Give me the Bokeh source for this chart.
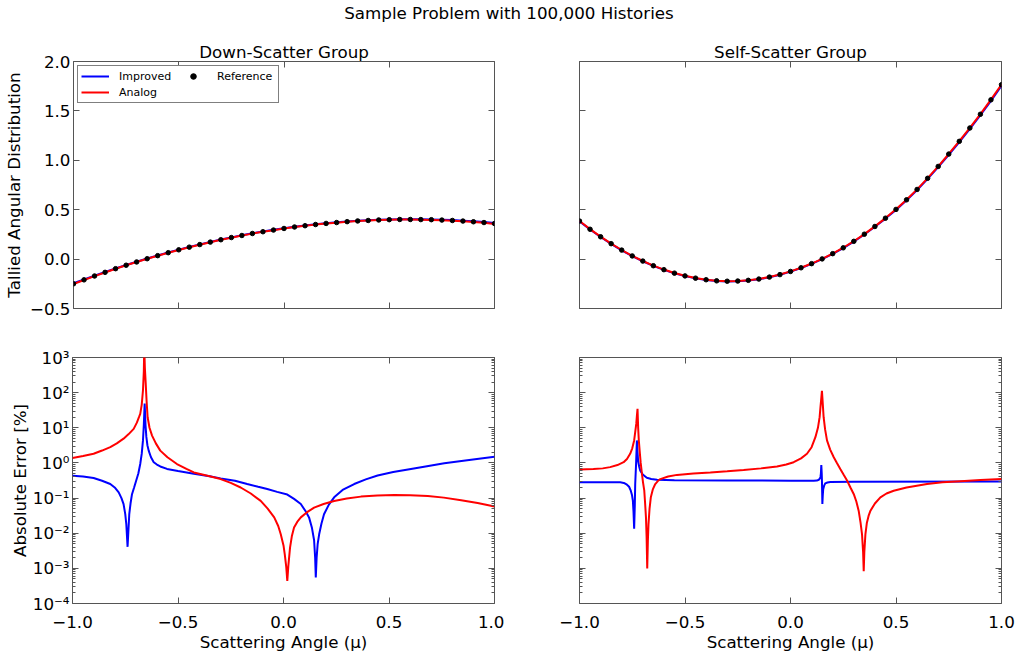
from bokeh.plotting import figure
from bokeh.layouts import column, row
from bokeh.models import (Range1d, LinearAxis, LogAxis, FixedTicker,
                          CustomJSTickFormatter, Legend, LegendItem)
from bokeh.embed import file_html
from bokeh.resources import INLINE
from bokeh.core.validation import silence
from bokeh.core.validation.warnings import MISSING_RENDERERS

silence(MISSING_RENDERERS, True)

FONT = "DejaVu Sans"
FS = "16.7px"
BLUE = "#0000ff"
RED = "#ff0000"
SPINE = "#555555"

# ---------------- texts ----------------
suptitle = "Sample Problem with 100,000 Histories"
panel_titles = ["Down-Scatter Group", "Self-Scatter Group"]
x_label = "Scattering Angle (\u03bc)"
y_label_top = "Tallied Angular Distribution"
y_label_bottom = "Absolute Error [%]"
series_names = ["Improved", "Analog", "Reference"]

x_ticks = [-1.0, -0.5, 0.0, 0.5, 1.0]
y_ticks_top = [-0.5, 0.0, 0.5, 1.0, 1.5, 2.0]
y_ticks_bottom = [1e-4, 1e-3, 1e-2, 1e-1, 1e0, 1e1, 1e2, 1e3]

# ---------------- top row: angular distributions ----------------
mu_ref = [-1.0, -0.95, -0.9, -0.85, -0.8, -0.75, -0.7, -0.65, -0.6, -0.55,
          -0.5, -0.45, -0.4, -0.35, -0.3, -0.25, -0.2, -0.15, -0.1, -0.05,
          0.0, 0.05, 0.1, 0.15, 0.2, 0.25, 0.3, 0.35, 0.4, 0.45,
          0.5, 0.55, 0.6, 0.65, 0.7, 0.75, 0.8, 0.85, 0.9, 0.95, 1.0]

down_reference = [-0.250, -0.210, -0.171, -0.134, -0.097, -0.062, -0.029, 0.004,
                  0.035, 0.065, 0.094, 0.121, 0.147, 0.172, 0.196, 0.218, 0.239,
                  0.259, 0.277, 0.294, 0.310, 0.325, 0.338, 0.350, 0.361, 0.370,
                  0.379, 0.386, 0.391, 0.396, 0.399, 0.401, 0.401, 0.400, 0.399,
                  0.395, 0.391, 0.385, 0.378, 0.370, 0.360]
down_improved = [-0.245, -0.206, -0.168, -0.131, -0.095, -0.060, -0.027, 0.006,
                 0.037, 0.067, 0.096, 0.123, 0.149, 0.174, 0.198, 0.220, 0.241,
                 0.261, 0.279, 0.296, 0.312, 0.327, 0.340, 0.352, 0.363, 0.372,
                 0.381, 0.388, 0.393, 0.398, 0.401, 0.403, 0.404, 0.403, 0.402,
                 0.399, 0.395, 0.389, 0.382, 0.375, 0.366]
down_analog = [-0.252, -0.212, -0.172, -0.135, -0.098, -0.063, -0.030, 0.003,
               0.034, 0.064, 0.093, 0.120, 0.146, 0.171, 0.195, 0.217, 0.238,
               0.258, 0.276, 0.293, 0.309, 0.324, 0.337, 0.349, 0.360, 0.369,
               0.378, 0.385, 0.390, 0.395, 0.398, 0.400, 0.400, 0.399, 0.397,
               0.393, 0.388, 0.382, 0.375, 0.367, 0.356]

self_reference = [0.385, 0.302, 0.226, 0.156, 0.091, 0.032, -0.020, -0.067,
                  -0.107, -0.142, -0.170, -0.193, -0.209, -0.220, -0.224, -0.222,
                  -0.215, -0.202, -0.182, -0.157, -0.125, -0.088, -0.046, 0.002,
                  0.055, 0.114, 0.180, 0.252, 0.330, 0.414, 0.503, 0.600, 0.705,
                  0.818, 0.938, 1.063, 1.192, 1.327, 1.466, 1.612, 1.765]
self_improved = [0.383, 0.300, 0.224, 0.154, 0.089, 0.030, -0.022, -0.069,
                 -0.109, -0.144, -0.172, -0.195, -0.211, -0.222, -0.226, -0.224,
                 -0.217, -0.204, -0.184, -0.159, -0.127, -0.090, -0.048, 0.000,
                 0.053, 0.112, 0.177, 0.249, 0.327, 0.410, 0.498, 0.595, 0.700,
                 0.812, 0.931, 1.055, 1.184, 1.318, 1.457, 1.602, 1.755]
self_analog = [0.386, 0.303, 0.227, 0.157, 0.092, 0.033, -0.019, -0.066,
               -0.106, -0.141, -0.169, -0.192, -0.208, -0.219, -0.223, -0.221,
               -0.214, -0.201, -0.181, -0.156, -0.124, -0.087, -0.045, 0.003,
               0.056, 0.115, 0.181, 0.253, 0.331, 0.415, 0.504, 0.601, 0.706,
               0.819, 0.939, 1.064, 1.194, 1.329, 1.468, 1.614, 1.767]

# ---------------- bottom row: absolute error [%] ----------------
down_err_improved_mu = [-1.0, -0.95, -0.90, -0.86, -0.821, -0.80, -0.781, -0.768, -0.758,
                        -0.750, -0.745, -0.739, -0.735, -0.731, -0.725, -0.718, -0.708,
                        -0.698, -0.688, -0.679, -0.672, -0.666, -0.662, -0.658, -0.654,
                        -0.650, -0.645, -0.639, -0.628, -0.615, -0.600, -0.584, -0.552,
                        -0.50, -0.425, -0.35, -0.298, -0.23, -0.172, -0.12, -0.077,
                        -0.03, 0.018, 0.05, 0.082, 0.105, 0.121, 0.135, 0.145, 0.150,
                        0.153, 0.157, 0.162, 0.169, 0.18, 0.192, 0.215, 0.240, 0.28,
                        0.335, 0.39, 0.446, 0.52, 0.604, 0.68, 0.762, 0.88, 1.0]
down_err_improved = [0.435, 0.41, 0.372, 0.31, 0.251, 0.20, 0.145, 0.10, 0.0676,
                     0.035, 0.0182, 0.0041, 0.012, 0.0347, 0.07, 0.129, 0.2,
                     0.316, 0.5, 0.933, 1.8, 4.37, 12.0, 49.0, 12.0,
                     5.5, 3.2, 2.24, 1.45, 1.05, 0.9, 0.794, 0.676,
                     0.59, 0.49, 0.42, 0.363, 0.31, 0.251, 0.21, 0.182,
                     0.15, 0.126, 0.095, 0.0676, 0.042, 0.0282, 0.014, 0.0063, 0.002,
                     0.00055, 0.002, 0.005, 0.0093, 0.019, 0.0347, 0.065, 0.105, 0.17,
                     0.251, 0.34, 0.437, 0.55, 0.676, 0.81, 0.977, 1.22, 1.51]

down_err_analog_mu = [-1.0, -0.95, -0.90, -0.86, -0.821, -0.79, -0.758, -0.735, -0.710,
                      -0.695, -0.685, -0.679, -0.672, -0.666, -0.662, -0.660, -0.657,
                      -0.653, -0.649, -0.644, -0.635, -0.623, -0.605, -0.584, -0.55,
                      -0.505, -0.46, -0.425, -0.36, -0.298, -0.25, -0.203, -0.155,
                      -0.108, -0.075, -0.044, -0.025, -0.013, 0.0, 0.006, 0.013,
                      0.018, 0.023, 0.031, 0.040, 0.050, 0.065, 0.082, 0.11, 0.145,
                      0.19, 0.240, 0.30, 0.367, 0.445, 0.525, 0.60, 0.684, 0.76,
                      0.842, 0.92, 1.0]
down_err_analog = [1.39, 1.58, 1.82, 2.25, 2.82, 3.6, 4.9, 6.5, 9.3,
                   14.0, 20.0, 25.0, 45.0, 117.0, 400.0, 2000.0, 500.0,
                   182.0, 60.0, 20.0, 10.0, 6.0, 3.6, 2.24, 1.45,
                   0.93, 0.68, 0.537, 0.43, 0.347, 0.27, 0.2, 0.135,
                   0.083, 0.05, 0.0282, 0.016, 0.0093, 0.0045, 0.0025, 0.0011,
                   0.00044, 0.0012, 0.0039, 0.0085, 0.0145, 0.021, 0.0282, 0.039, 0.0537,
                   0.068, 0.083, 0.097, 0.11, 0.118, 0.123, 0.121, 0.115, 0.103,
                   0.087, 0.072, 0.0575]

self_err_improved_mu = [-1.0, -0.9, -0.807, -0.79, -0.775, -0.765, -0.757, -0.751, -0.747,
                        -0.744, -0.741, -0.738, -0.736, -0.732, -0.728, -0.725, -0.722,
                        -0.717, -0.712, -0.700, -0.69, -0.681, -0.66, -0.633, -0.55,
                        -0.300, 0.0, 0.110, 0.125, 0.134, 0.140, 0.142, 0.144, 0.146,
                        0.148, 0.149, 0.150, 0.151, 0.153, 0.155, 0.160, 0.165, 0.175,
                        0.189, 0.3, 1.0]
self_err_improved = [0.282, 0.282, 0.28, 0.27, 0.24, 0.21, 0.162, 0.12, 0.083,
                     0.04, 0.0135, 0.06, 0.25, 0.9, 4.37, 2.0, 1.12,
                     0.78, 0.60, 0.468, 0.42, 0.38, 0.35, 0.331, 0.32,
                     0.316, 0.312, 0.309, 0.315, 0.331, 0.37, 0.398, 0.5, 0.87,
                     0.5, 0.316, 0.15, 0.0676, 0.12, 0.178, 0.23, 0.263, 0.278,
                     0.288, 0.292, 0.295]

self_err_analog_mu = [-1.0, -0.934, -0.89, -0.855, -0.82, -0.791, -0.775, -0.760, -0.75,
                      -0.741, -0.736, -0.731, -0.728, -0.725, -0.722, -0.719, -0.715,
                      -0.710, -0.704, -0.699, -0.693, -0.689, -0.685, -0.682, -0.679,
                      -0.676, -0.673, -0.668, -0.662, -0.652, -0.641, -0.630, -0.617,
                      -0.58, -0.538, -0.46, -0.380, -0.30, -0.222, -0.14, -0.064,
                      -0.02, 0.015, 0.05, 0.078, 0.10, 0.118, 0.13, 0.138, 0.142,
                      0.146, 0.149, 0.152, 0.157, 0.164, 0.173, 0.188, 0.205, 0.22,
                      0.236, 0.252, 0.268, 0.284, 0.300, 0.312, 0.323, 0.332, 0.339,
                      0.344, 0.347, 0.350, 0.355, 0.362, 0.370, 0.379, 0.40, 0.426,
                      0.455, 0.489, 0.55, 0.647, 0.72, 0.806, 0.9, 1.0]
self_err_analog = [0.646, 0.668, 0.7, 0.76, 0.87, 1.05, 1.3, 1.82, 2.6,
                   4.37, 7.5, 12.9, 22.0, 34.7, 10.0, 4.5, 2.24,
                   1.0, 0.49, 0.28, 0.162, 0.07, 0.0282, 0.008, 0.001,
                   0.006, 0.0182, 0.05, 0.105, 0.18, 0.251, 0.30, 0.347,
                   0.41, 0.457, 0.5, 0.537, 0.58, 0.631, 0.7, 0.794,
                   0.9, 1.05, 1.35, 1.82, 2.8, 5.4, 10.0, 20.0, 38.9,
                   70.0, 112.0, 60.0, 20.0, 9.0, 4.37, 2.4, 1.45, 1.0,
                   0.676, 0.46, 0.316, 0.2, 0.129, 0.08, 0.0437, 0.02, 0.0093,
                   0.003, 0.00083, 0.003, 0.0093, 0.02, 0.031, 0.0437, 0.07, 0.105,
                   0.135, 0.162, 0.2, 0.251, 0.28, 0.302, 0.325, 0.347]

# ---------------- helpers ----------------
minus_fmt = CustomJSTickFormatter(code="return tick.toFixed(1).replace('-', '\\u2212');")
log_fmt = CustomJSTickFormatter(code="""
const sup = {'-':'\\u207B','0':'\\u2070','1':'\\u00B9','2':'\\u00B2','3':'\\u00B3',
             '4':'\\u2074','5':'\\u2075','6':'\\u2076','7':'\\u2077','8':'\\u2078','9':'\\u2079'};
const e = Math.round(Math.log10(tick));
return '10' + String(e).split('').map(c => sup[c]).join('');
""")
log_minor = [m * 10.0 ** e for e in range(-4, 3) for m in range(2, 10)]


def style_axis(ax, labels=True, minor=False, standoff=3):
    ax.axis_line_color = None
    ax.major_tick_in = 6
    ax.major_tick_out = 0
    ax.major_tick_line_color = SPINE
    ax.minor_tick_in = 3 if minor else 0
    ax.minor_tick_out = 0
    ax.minor_tick_line_color = SPINE if minor else None
    ax.major_label_text_font = FONT
    if labels:
        ax.major_label_text_color = "black"
        ax.major_label_text_font_size = FS
        ax.major_label_standoff = standoff
    else:
        ax.major_label_text_color = None
        ax.major_label_text_font_size = "1px"
        ax.major_label_standoff = 0
    ax.axis_label_text_font = FONT
    ax.axis_label_text_font_size = FS
    ax.axis_label_text_font_style = "normal"
    ax.axis_label_text_color = "black"
    ax.axis_label_standoff = 5


def make_panel(width, height, mb, log=False, show_xlabels=False, show_ylabels=False,
               title=None, ylabel=None, ylabel_standoff=5):
    p = figure(width=width, height=height, toolbar_location=None, output_backend="svg",
               x_range=Range1d(-1, 1),
               y_range=Range1d(1e-4, 1e3) if log else Range1d(-0.5, 2.0),
               y_axis_type="log" if log else "linear",
               min_border_left=mb[0], min_border_right=mb[1],
               min_border_top=mb[2], min_border_bottom=mb[3])
    p.grid.visible = False
    p.outline_line_color = SPINE
    p.outline_line_width = 1
    p.background_fill_color = "white"
    p.border_fill_color = "white"
    if title:
        p.title.text = title
        p.title.align = "center"
        p.title.text_font = FONT
        p.title.text_font_size = FS
        p.title.text_font_style = "normal"
        p.title.text_color = "black"
        p.title.standoff = 0
    # bottom x axis
    xa = p.xaxis[0]
    xa.ticker = FixedTicker(ticks=x_ticks)
    xa.formatter = minus_fmt
    style_axis(xa, labels=show_xlabels, standoff=12)
    if show_xlabels:
        xa.axis_label = x_label
        xa.axis_label_standoff = 1
    # left y axis
    ya = p.yaxis[0]
    if log:
        ya.ticker = FixedTicker(ticks=y_ticks_bottom, minor_ticks=log_minor)
    else:
        ya.ticker = FixedTicker(ticks=y_ticks_top)
    ya.formatter = log_fmt if log else minus_fmt
    style_axis(ya, labels=show_ylabels, minor=log, standoff=3)
    if ylabel:
        ya.axis_label = ylabel
        ya.axis_label_standoff = ylabel_standoff
    # mirrored ticks on top and right
    top = LinearAxis(ticker=FixedTicker(ticks=x_ticks), formatter=minus_fmt)
    style_axis(top, labels=False)
    p.add_layout(top, "above")
    if log:
        right = LogAxis(ticker=FixedTicker(ticks=y_ticks_bottom, minor_ticks=log_minor),
                        formatter=log_fmt)
    else:
        right = LinearAxis(ticker=FixedTicker(ticks=y_ticks_top), formatter=minus_fmt)
    style_axis(right, labels=False, minor=log)
    p.add_layout(right, "right")
    return p


W_L, W_R = 504, 513
H_T, H_B = 282, 338

# ---------------- super title ----------------
p0 = figure(width=W_L + W_R, height=36, toolbar_location=None, output_backend="svg",
            x_range=Range1d(0, 1), y_range=Range1d(0, 1),
            min_border=0, min_border_top=5)
p0.title.text = suptitle
p0.title.align = "center"
p0.title.text_font = FONT
p0.title.text_font_size = FS
p0.title.text_font_style = "normal"
p0.title.text_color = "black"
p0.title.standoff = 0
p0.axis.visible = False
p0.grid.visible = False
p0.outline_line_color = None

# ---------------- top-left ----------------
tl = make_panel(W_L, H_T, (72, 10, 25, 10), title=panel_titles[0], show_ylabels=True,
                ylabel=y_label_top, ylabel_standoff=3)
r1 = tl.line(mu_ref, down_improved, line_color=BLUE, line_width=2)
r2 = tl.line(mu_ref, down_analog, line_color=RED, line_width=2)
r3 = tl.scatter(mu_ref, down_reference, size=4.5, color="black")
legend = Legend(items=[LegendItem(label=series_names[0], renderers=[r1]),
                       LegendItem(label=series_names[1], renderers=[r2]),
                       LegendItem(label=series_names[2], renderers=[r3])],
                location="top_left", nrows=2)
legend.label_text_font = FONT
legend.label_text_font_size = "11px"
legend.label_text_color = "black"
legend.border_line_color = "black"
legend.border_line_width = 1
legend.background_fill_alpha = 1
legend.padding = 3
legend.spacing = 2
legend.margin = 4
legend.glyph_width = 28
legend.glyph_height = 14
legend.label_height = 14
legend.label_width = 58
legend.label_standoff = 10
tl.add_layout(legend)

# ---------------- top-right ----------------
tr = make_panel(W_R, H_T, (75, 16, 25, 10), title=panel_titles[1])
tr.line(mu_ref, self_improved, line_color=BLUE, line_width=2)
tr.line(mu_ref, self_analog, line_color=RED, line_width=2)
tr.scatter(mu_ref, self_reference, size=4.5, color="black")

# ---------------- bottom-left ----------------
bl = make_panel(W_L, H_B, (72, 10, 39, 53), log=True, show_xlabels=True, show_ylabels=True,
                ylabel=y_label_bottom, ylabel_standoff=0)
bl.line(down_err_improved_mu, down_err_improved, line_color=BLUE, line_width=2)
bl.line(down_err_analog_mu, down_err_analog, line_color=RED, line_width=2)

# ---------------- bottom-right ----------------
br = make_panel(W_R, H_B, (75, 16, 39, 53), log=True, show_xlabels=True)
br.line(self_err_improved_mu, self_err_improved, line_color=BLUE, line_width=2)
br.line(self_err_analog_mu, self_err_analog, line_color=RED, line_width=2)

layout = column(p0, row(tl, tr), row(bl, br), spacing=0)

open("out.html", "w").write(file_html(layout, INLINE))
